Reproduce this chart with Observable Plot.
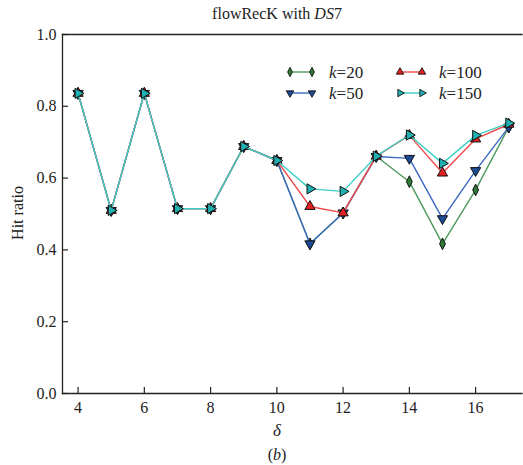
<!DOCTYPE html>
<html>
<head>
<meta charset="utf-8">
<script src="https://cdn.jsdelivr.net/npm/d3@7"></script>
<script src="https://cdn.jsdelivr.net/npm/@observablehq/plot@0.6"></script>
<style>
  html, body { margin: 0; padding: 0; background: #fff; }
  body { font-family: "Liberation Serif", "Times New Roman", serif; }
  #wrap { position: relative; width: 523px; height: 465px; overflow: hidden; }
  .lbl { position: absolute; font-size: 16px; color: #222; white-space: nowrap; transform: translateX(-50%); }
  #legend { position: absolute; left: 0; top: 0; pointer-events: none; }
  svg text { font-family: "Liberation Serif", "Times New Roman", serif; }
</style>
</head>
<body>
<div id="wrap"></div>
<script>
// ---- data ----
const deltas = [4, 5, 6, 7, 8, 9, 10, 11, 12, 13, 14, 15, 16, 17];
const k20  = [0.836, 0.510, 0.836, 0.515, 0.515, 0.688, 0.649, 0.417, 0.503, 0.661, 0.590, 0.417, 0.567, 0.742];
const k50  = [0.836, 0.510, 0.836, 0.515, 0.515, 0.688, 0.649, 0.417, 0.503, 0.660, 0.655, 0.487, 0.621, 0.742];
const k100 = [0.836, 0.510, 0.836, 0.515, 0.515, 0.688, 0.649, 0.521, 0.503, 0.661, 0.719, 0.614, 0.709, 0.750];
const k150 = [0.836, 0.510, 0.836, 0.515, 0.515, 0.688, 0.649, 0.570, 0.563, 0.661, 0.720, 0.641, 0.719, 0.753];
const seriesNames = ["k=20", "k=50", "k=100", "k=150"];
const xTicks = [4, 6, 8, 10, 12, 14, 16];
const yTicks = [0, 0.2, 0.4, 0.6, 0.8, 1.0];

// ---- styles ----
const serif = "'Liberation Serif', 'Times New Roman', serif";
const thinDiamond = {
  draw(context, size) {
    const a = Math.sqrt(size / 1.0);
    const w = a * 0.5;
    context.moveTo(0, -a);
    context.lineTo(w, 0);
    context.lineTo(0, a);
    context.lineTo(-w, 0);
    context.closePath();
  }
};
const styles = [
  {line: "#4f9a5c", fill: "#2f7a35", symbol: thinDiamond, rotate: 0, r: 3.3},
  {line: "#3a68c0", fill: "#1c4a94", symbol: "triangle", rotate: 180, r: 3.8},
  {line: "#f04a4a", fill: "#e42020", symbol: "triangle", rotate: 0, r: 3.8},
  {line: "#3ccfc4", fill: "#1fb0b0", symbol: "triangle", rotate: 90, r: 3.8}
];
const allSeries = [k20, k50, k100, k150];

const marks = [
  Plot.frame({anchor: "left", stroke: "#222", strokeWidth: 1.3}),
  Plot.frame({anchor: "bottom", stroke: "#222", strokeWidth: 1.3}),
  Plot.frame({anchor: "top", stroke: "#222", strokeWidth: 1.3}),
  Plot.axisX(xTicks, {tickSize: 0, tickPadding: 8, fontSize: 16, fontFamily: serif, fill: "#222", label: null}),
  Plot.axisX(xTicks, {tickSize: -6, text: null, stroke: "#222", strokeWidth: 1.2, label: null}),
  Plot.axisY(yTicks, {tickSize: 0, tickPadding: 6, fontSize: 16, fontFamily: serif, fill: "#222", tickFormat: d3.format(".1f"), label: null}),
  Plot.axisY(yTicks, {tickSize: -6, text: null, stroke: "#222", strokeWidth: 1.2, label: null})
];
allSeries.forEach((vals, i) => {
  const data = deltas.map((d, j) => ({delta: d, v: vals[j]}));
  const s = styles[i];
  marks.push(Plot.line(data, {x: "delta", y: "v", stroke: s.line, strokeWidth: 1.4}));
  marks.push(Plot.dot(data, {x: "delta", y: "v", symbol: s.symbol, r: s.r, rotate: s.rotate, fill: s.fill, stroke: "#111", strokeWidth: 1}));
});

const chart = Plot.plot({
  width: 523,
  height: 465,
  marginTop: 34,
  marginBottom: 72,
  marginLeft: 62,
  marginRight: 1.5,
  style: {fontFamily: serif, fontSize: "16px", background: "#fff", color: "#222"},
  x: {domain: [3.53, 17.4], axis: null},
  y: {domain: [0, 1], axis: null},
  marks
});
const wrap = document.getElementById("wrap");
wrap.appendChild(chart);

// ---- text labels ----
function addLabel(html, x, y, size) {
  const d = document.createElement("div");
  d.className = "lbl";
  d.innerHTML = html;
  d.style.left = x + "px";
  d.style.top = y + "px";
  if (size) d.style.fontSize = size + "px";
  wrap.appendChild(d);
}
addLabel("flowRecK with <i>DS</i>7", 277, 5, 16);
addLabel("<i>δ</i>", 277, 421, 17);
addLabel("(<i>b</i>)", 277, 446, 16);
const yl = document.createElement("div");
yl.className = "lbl";
yl.textContent = "Hit ratio";
yl.style.left = "18px";
yl.style.top = "213px";
yl.style.fontSize = "16px";
yl.style.transform = "translate(-50%, -50%) rotate(-90deg)";
wrap.appendChild(yl);

// ---- legend ----
const legendPos = [[290, 72], [290, 93], [400, 72], [400, 93]];
const ns = "http://www.w3.org/2000/svg";
const lg = document.createElementNS(ns, "svg");
lg.setAttribute("id", "legend");
lg.setAttribute("width", 523);
lg.setAttribute("height", 465);
seriesNames.forEach((name, i) => {
  const s = styles[i];
  const [lx, ly] = legendPos[i];
  const line = document.createElementNS(ns, "line");
  line.setAttribute("x1", lx); line.setAttribute("x2", lx + 22);
  line.setAttribute("y1", ly); line.setAttribute("y2", ly);
  line.setAttribute("stroke", s.line); line.setAttribute("stroke-width", 1.4);
  lg.appendChild(line);
  const sym = s.symbol === "triangle" ? d3.symbolTriangle : s.symbol;
  const size = s.symbol === "triangle" ? 24 : 22;
  [lx, lx + 22].forEach(px => {
    const p = document.createElementNS(ns, "path");
    p.setAttribute("d", d3.symbol(sym, size)());
    p.setAttribute("transform", `translate(${px},${ly}) rotate(${s.rotate})`);
    p.setAttribute("fill", s.fill);
    p.setAttribute("stroke", "#111");
    p.setAttribute("stroke-width", 0.9);
    lg.appendChild(p);
  });
  const t = document.createElementNS(ns, "text");
  t.setAttribute("x", lx + 39);
  t.setAttribute("y", ly + 6);
  t.setAttribute("font-size", 17);
  t.setAttribute("font-family", serif);
  t.setAttribute("fill", "#222");
  const [kk, val] = name.split("=");
  const ti = document.createElementNS(ns, "tspan");
  ti.setAttribute("font-style", "italic");
  ti.textContent = kk;
  t.appendChild(ti);
  t.appendChild(document.createTextNode("=" + val));
  lg.appendChild(t);
});
wrap.appendChild(lg);
</script>
</body>
</html>
